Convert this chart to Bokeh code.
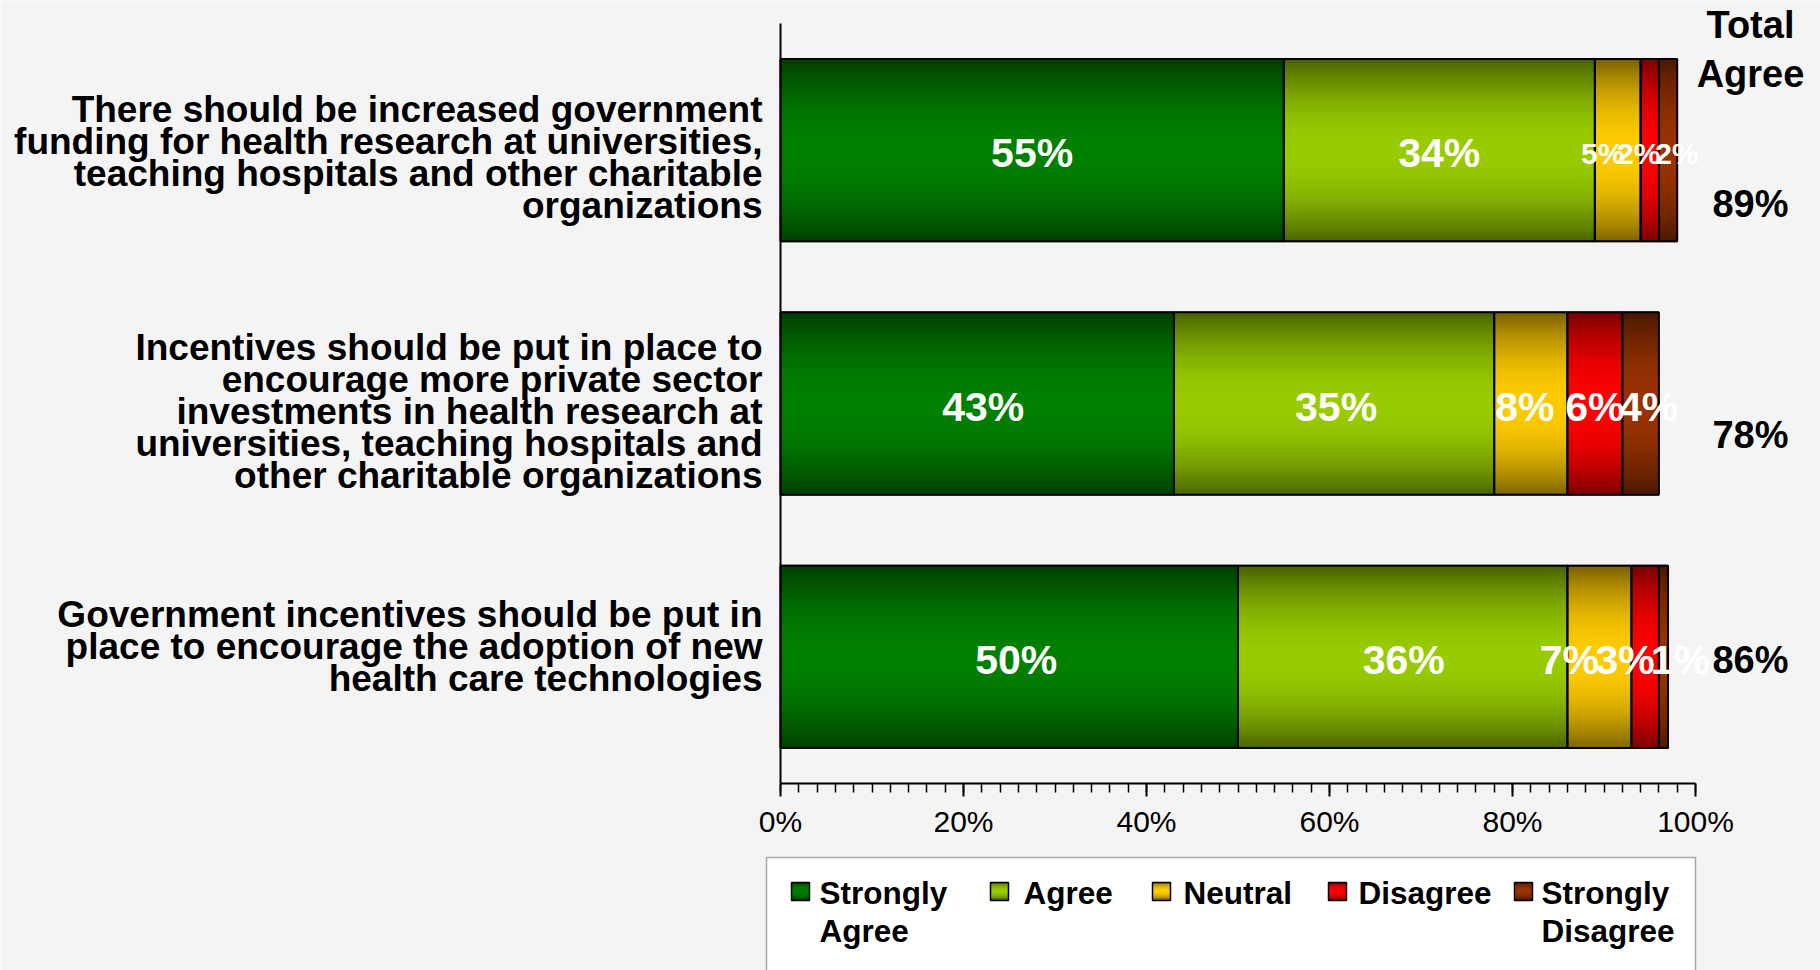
import numpy as np
from bokeh.plotting import figure
from bokeh.models import ColumnDataSource, Range1d, LinearAxis, FixedTicker, NumeralTickFormatter
from bokeh.core.properties import value
from bokeh.embed import file_html
from bokeh.resources import INLINE

# ---------------- data ----------------
questions = [
    "There should be increased government\nfunding for health research at universities,\nteaching hospitals and other charitable\norganizations",
    "Incentives should be put in place to\nencourage more private sector\ninvestments in health research at\nuniversities, teaching hospitals and\nother charitable organizations",
    "Government incentives should be put in\nplace to encourage the adoption of new\nhealth care technologies",
]
series = ["Strongly Agree", "Agree", "Neutral", "Disagree", "Strongly Disagree"]
legend_labels = ["Strongly\nAgree", "Agree", "Neutral", "Disagree", "Strongly\nDisagree"]
strongly_agree = [55, 43, 50]
agree = [34, 35, 36]
neutral = [5, 8, 7]
disagree = [2, 6, 3]
strongly_disagree = [2, 4, 1]
total_agree = [89, 78, 86]
total_header = "Total\nAgree"
x_ticks = [0, 20, 40, 60, 80, 100]
series_colors = ["#008000", "#99cc00", "#ffcc00", "#ff0000", "#993300"]

# ---------------- layout (pixels) ----------------
W, H = 1820, 970
X0, X1 = 780, 1695          # pixel of 0% / 100%
YT, YB = 23, 783            # top / bottom of the category axis
ncat = len(questions)
band = (YB - YT) / ncat
BAR_H = 0.72
FONT = "Liberation Sans"
BG = "#f4f4f4"

def px_x(px):
    return (px - X0) / (X1 - X0)

def px_y(py):
    return (YB - py) / band

def shade(hexcol, f):
    r, g, b = int(hexcol[1:3], 16), int(hexcol[3:5], 16), int(hexcol[5:7], 16)
    return "#%02x%02x%02x" % (int(r * f), int(g * f), int(b * f))

p = figure(width=W, height=H,
           x_range=Range1d(px_x(0), px_x(W)), y_range=Range1d(px_y(H), px_y(0)),
           x_axis_type=None, y_axis_type=None,
           output_backend="svg", toolbar_location=None, min_border=0,
           background_fill_color=BG, border_fill_color=BG, outline_line_color=None)

values = np.array([strongly_agree, agree, neutral, disagree, strongly_disagree], dtype=float) / 100.0
rights = np.cumsum(values, axis=0)
lefts = rights - values
ycent = ncat - 0.5 - np.arange(ncat)

# gradient strips
N = 60
edges = np.linspace(-BAR_H / 2, BAR_H / 2, N + 1)
mids = (edges[:-1] + edges[1:]) / 2
t = np.abs(mids) / (BAR_H / 2)
fac = 1 - 0.52 * t ** 2
sl, sr, sy, sc = [], [], [], []
for s in range(len(series)):
    for c in range(ncat):
        for j in range(N):
            sl.append(lefts[s, c]); sr.append(rights[s, c])
            sy.append(ycent[c] + mids[j]); sc.append(shade(series_colors[s], fac[j]))
p.hbar(y=sy, left=sl, right=sr, height=BAR_H / N * 1.6, fill_color=sc, line_color=None)

# outlines
p.hbar(y=np.tile(ycent, len(series)), left=lefts.ravel(), right=rights.ravel(), height=BAR_H,
       fill_color=None, line_color="black", line_width=2)

# bar value labels
lab_x_nudge = [[0, 0, -15, -11, 9], [6, 2, -6, 0, 8], [7, 1, -30, -20, 17]]
lab_size = [["41px", "41px", "30px", "30px", "30px"],
            ["41px", "41px", "41px", "41px", "41px"],
            ["41px", "41px", "41px", "41px", "41px"]]
lx, ly, lt, lo, lf = [], [], [], [], []
for c in range(ncat):
    for s in range(len(series)):
        lx.append((lefts[s, c] + rights[s, c]) / 2)
        ly.append(ycent[c])
        lt.append("%d%%" % round(values[s, c] * 100))
        lo.append(lab_x_nudge[c][s])
        lf.append(lab_size[c][s])
src = ColumnDataSource(dict(x=lx, y=ly, text=lt, xo=lo, fs=lf))
p.text(x="x", y="y", text="text", x_offset="xo", y_offset=3, text_font_size="fs", source=src,
       text_color="white", text_font=value(FONT), text_font_style="bold",
       text_align="center", text_baseline="middle")

# category labels
p.text(x=[0] * ncat, y=ycent, text=questions, x_offset=-18, y_offset=[7, 8, -10],
       text_align="right", text_baseline="middle", text_font=value(FONT),
       text_font_style="bold", text_font_size="37px", text_line_height=0.78, text_color="black")

# total agree
p.text(x=[px_x(1750)], y=[px_y(49)], text=[total_header], text_align="center",
       text_baseline="middle", text_font=value(FONT), text_font_style="bold",
       text_font_size="38px", text_line_height=1.15, text_color="black")
p.text(x=[px_x(1750)] * ncat, y=ycent, y_offset=[54, 31, 3],
       text=["%d%%" % v for v in total_agree], text_align="center", text_baseline="middle",
       text_font=value(FONT), text_font_style="bold", text_font_size="38px", text_color="black")

# axes
xaxis = LinearAxis(fixed_location=0, bounds=(0, 1),
                   ticker=FixedTicker(ticks=[v / 100 for v in x_ticks],
                                      minor_ticks=[k / 50 for k in range(51)]),
                   formatter=NumeralTickFormatter(format="0%"),
                   axis_line_width=2, axis_line_color="black",
                   major_tick_out=13, major_tick_in=0, major_tick_line_width=2,
                   minor_tick_out=9, minor_tick_in=0, minor_tick_line_width=1.5,
                   major_label_standoff=8, major_label_text_font=FONT,
                   major_label_text_font_size="30px", major_label_text_color="black")
p.add_layout(xaxis, "below")
yaxis = LinearAxis(fixed_location=0, bounds=(0, ncat), ticker=FixedTicker(ticks=[]),
                   axis_line_width=2, axis_line_color="black",
                   major_tick_line_color=None, minor_tick_line_color=None,
                   major_label_text_font_size="0px")
p.add_layout(yaxis, "left")

# legend (drawn manually)
p.quad(left=[px_x(766)], right=[px_x(1695)], top=[px_y(857)], bottom=[px_y(980)],
       fill_color="white", line_color="#a8a8a8", line_width=1.5)
mk_x = [800, 999, 1161, 1337, 1523]
tx_x = [819, 1023, 1183, 1358, 1541]
MK = 18
M = 10
ml, mr, my, mc = [], [], [], []
medges = np.linspace(-MK / 2, MK / 2, M + 1)
mmids = (medges[:-1] + medges[1:]) / 2
mfac = 1 - 0.55 * (np.abs(mmids) / (MK / 2)) ** 2
for s in range(len(series)):
    for j in range(M):
        ml.append(px_x(mk_x[s] - MK / 2)); mr.append(px_x(mk_x[s] + MK / 2))
        my.append(px_y(891 + mmids[j])); mc.append(shade(series_colors[s], mfac[j]))
p.hbar(y=my, left=ml, right=mr, height=MK / M / band * 1.5, fill_color=mc, line_color=None)
p.quad(left=[px_x(x - MK / 2) for x in mk_x], right=[px_x(x + MK / 2) for x in mk_x],
       top=[px_y(891 - MK / 2)] * len(series), bottom=[px_y(891 + MK / 2)] * len(series),
       fill_color=None, line_color="black", line_width=1.5)
p.text(x=[px_x(x) for x in tx_x], y=[px_y(874)] * len(series), text=legend_labels,
       text_align="left", text_baseline="top", text_font=value(FONT), text_font_style="bold",
       text_font_size="31.5px", text_line_height=1.06, text_color="black")

open("out.html", "w").write(file_html(p, INLINE))
